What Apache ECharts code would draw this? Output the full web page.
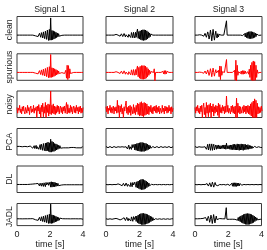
<!DOCTYPE html>
<html><head><meta charset="utf-8">
<script src="https://cdn.jsdelivr.net/npm/echarts@6/dist/echarts.min.js"></script>
<style>html,body{margin:0;padding:0;background:#fff}#c{width:267px;height:250px}</style>
</head><body><div id="c"></div>
<script>
const colTitles = ['Signal 1','Signal 2','Signal 3'];
const rowLabels = ['clean','spurious','noisy','PCA','DL','JADL'];
const xTicks = [0,2,4];
const time = [0,0.04,0.08,0.12,0.16,0.2,0.24,0.28,0.32,0.36,
0.4,0.44,0.48,0.52,0.56,0.6,0.64,0.68,0.72,0.76,
0.8,0.84,0.88,0.92,0.96,1,1.04,1.08,1.12,1.16,
1.2,1.24,1.28,1.32,1.36,1.4,1.44,1.48,1.52,1.56,
1.6,1.64,1.68,1.72,1.76,1.8,1.84,1.88,1.92,1.96,
2,2.04,2.08,2.12,2.16,2.2,2.24,2.28,2.32,2.36,
2.4,2.44,2.48,2.52,2.56,2.6,2.64,2.68,2.72,2.76,
2.8,2.84,2.88,2.92,2.96,3,3.04,3.08,3.12,3.16,
3.2,3.24,3.28,3.32,3.36,3.4,3.44,3.48,3.52,3.56,
3.6,3.64,3.68,3.72,3.76,3.8,3.84,3.88,3.92,3.96,4];

const s1Clean = [0,0,0,0,0,0,0,0,0,0,
0,0,0,0,0,0,0,0,0,0,
0,0,0,0,0,0.05,0.1,0,-0.1,0,
0.15,0.05,-0.2,0,0.25,0,-0.3,0.35,0,-0.4,
0.45,-0.1,-0.5,0.55,0,-0.6,0.7,-0.1,-0.75,0.8,
-0.7,2.4,-0.7,0.65,-0.65,0.6,-0.55,0.5,-0.45,0.4,
-0.35,0.3,-0.25,0.2,-0.15,0.1,-0.08,0.05,-0.03,0,
0,0,0,0,0,0,0,0,0,0,
0,0,0,0,0,0,0,0,0,0,
0,0,0,0,0,0,0,0,0,0,0];
const s2Clean = [0,0,0,0,0,0,0,0,0,0,
0,0,0,0,0.05,0.1,0,-0.1,0,0.12,
0,-0.15,0,0.18,0,-0.2,0,0.22,0,-0.25,
0.05,0.28,-0.05,-0.3,0.1,0.32,-0.1,-0.34,0.36,0,
-0.38,0.4,-0.1,-0.4,0.4,-0.3,0.4,0.85,-0.45,0.5,
-0.55,0.6,-0.65,0.7,-0.72,0.75,-0.75,0.75,-0.72,0.7,
-0.65,0.6,-0.52,0.45,-0.37,0.3,-0.22,0.15,-0.08,0.04,
0,0,0,0,0,0,0,0,0,0,
0,0,0,0,0,0,0,0,0,0,
0,0,0,0,0,0,0,0,0,0,0];
const s3Clean = [0,0,0,0,0,0,0,0.05,0,-0.05,
0,0.1,0,-0.15,0,0.25,0.1,-0.3,-0.1,0.45,
0.1,-0.55,-0.1,0.7,0.1,-0.8,0,0.8,0,-0.7,
0,0.55,-0.1,-0.4,0.2,-0.25,0.1,-0.1,0.04,0,
0,0,0,0,0,0,0,2.0,0,0,
0,0,0,0,0,0,0,0,0,0,
0,0,0,0,0,0,0,0,0,0,
0.03,-0.06,0.1,-0.15,0.2,-0.25,0.3,-0.35,0.4,-0.44,
0.47,-0.5,0.5,-0.5,0.5,-0.48,0.45,-0.42,0.38,-0.33,
0.28,-0.22,0.16,-0.1,0.06,-0.03,0,0,0,0,0];

const s1Spur = [0,0,0,0,0,0,0,0,0,0,
0,0,0,0,0,0,0,0,0,0,
0,0,0,0,0,0.05,0.1,0,-0.1,0,
0.15,0.05,-0.2,0,0.25,0,-0.3,0.35,0,-0.4,
0.45,-0.1,-0.5,0.55,0,-0.6,0.7,-0.1,-0.75,0.8,
-0.7,2.5,-0.7,0.65,-0.65,0.6,-0.55,0.5,-0.45,0.4,
-0.35,0.3,-0.25,0.2,-0.15,0.1,-0.08,0.05,-0.03,0,
0,0.1,-0.15,0.1,0.3,-0.8,1.0,-1.0,0.95,-0.8,
0.5,-0.15,0,0,0,0,0,0,0,0,
0,0,0,0,0,0,0,0,0,0,0];
const s2Spur = [0,0,0,0,0,0,0,0,0,0,
0,0,0,0,0.05,0.1,0,-0.1,0,0.12,
0,-0.15,0,0.18,0,-0.2,0,0.22,0,-0.25,
0.05,0.28,-0.05,-0.3,0.1,0.32,-0.1,-0.34,0.36,0,
-0.38,0.4,-0.1,-0.4,0.4,-0.35,0.5,0.9,-0.6,0.7,
-0.8,0.85,-0.9,0.95,-0.95,0.95,-0.95,0.95,-0.92,0.88,
-0.8,0.7,-0.6,0.5,-0.4,0.3,-0.2,0.12,-0.06,0.03,
0,0,0.5,-1.2,0,0,0,0,0,0,
0,0,0,0.05,-0.1,0.15,-0.2,0.25,-0.25,0.25,
-0.2,0.15,-0.1,0.05,0,0,0,0,0,0,0];
const s3Spur = [0,0,0,0,0,0,0,0.04,0,-0.04,
0,0.08,0,-0.12,0,0.2,0.08,-0.22,-0.08,0.35,
0.08,-0.42,-0.08,0.52,0.08,-0.6,0,0.6,0,-0.52,
0,0.38,-0.08,-0.2,0.15,0.3,-0.6,0.9,-1.0,0.85,
-0.4,0.1,0,0,0,0,0,1.8,0,0,
0,0,0,0,0,0,0,0,0,0.3,
-1.1,1.7,-1.2,1.0,-0.4,0.1,0,0.05,-0.15,0.2,
-0.25,0.25,-0.25,0.25,-0.2,0.2,-0.15,0.1,-0.05,0.1,
-0.25,0.45,-0.7,1.0,-1.1,1.4,-1.15,1.6,-1.15,1.5,
-1.1,1.0,-0.7,0.35,-0.1,0,0,0,0,0,0];

const s1Noisy = [0.3,-0.5,0.2,-0.1,0.6,-0.4,0.1,-0.6,0.4,-0.2,
0.5,-0.3,-0.6,0.3,0.1,-0.5,0.6,-0.2,0.3,-0.7,
0.2,0.5,-0.4,0.1,-0.3,0.6,-0.5,0.2,-0.1,0.4,
-1.1,0.5,-0.2,0.7,-0.6,0.3,-1.1,0.6,-0.3,0.9,
-1.0,0.4,-0.5,1.0,-1.1,0.6,-0.4,0.8,-0.9,0.7,
-0.6,2.6,-0.7,0.6,-0.5,0.8,-0.6,0.5,-0.7,0.4,
-0.5,0.6,-0.3,0.5,-0.6,0.2,0.5,-0.4,0.3,-0.6,
0.4,-0.2,0.5,-0.5,0.3,1.0,-0.6,0.7,-0.4,0.2,
-0.5,0.6,-0.3,0.4,-0.6,0.1,0.5,-0.4,0.3,-0.5,
0.6,-0.2,0.3,-0.6,0.4,-0.3,0.5,-0.5,0.2,-0.4,0.3];
const s2Noisy = [0.4,-0.3,0.5,-0.6,0.2,-0.1,0.6,-0.4,0.3,-0.5,
0.2,0.5,-0.6,0.3,-0.2,0.4,-0.5,1.3,-0.4,0.6,
-1.1,0.5,-0.3,0.7,-0.6,0.2,-1.1,0.4,-0.2,0.6,
1.2,-0.5,0.3,-0.7,0.5,-0.4,0.6,-0.8,0.4,0.2,
-0.6,0.7,-0.5,0.3,-0.7,0.6,-0.3,0.9,-0.7,0.8,
-0.9,1.0,-0.8,1.1,-0.9,0.9,-1.0,1.0,-0.8,0.9,
-0.7,0.8,-0.6,0.5,-0.7,0.4,-0.3,0.6,-0.5,0.3,
-0.6,0.4,-0.2,0.5,-0.4,0.6,-0.5,0.3,-0.3,0.5,
-0.6,0.2,0.4,-0.5,0.6,-0.3,0.2,-0.6,0.5,-0.2,
0.4,-0.5,0.3,-0.4,0.6,-0.2,0.3,-0.6,0.4,-0.3,0.2];
const s3Noisy = [0.3,-0.5,0.4,-0.2,0.6,-0.4,0.2,-0.6,0.5,-0.3,
0.6,-1.1,0.4,0.9,-0.7,0.3,-1.1,1.0,-0.5,0.6,
-1.0,0.7,-0.4,0.9,-1.1,0.5,-0.3,0.8,-0.9,0.4,
-0.5,0.6,-0.3,0.5,-0.8,0.9,-1.1,0.7,-0.4,0.3,
-0.5,0.6,-0.2,0.4,-0.6,0.5,-0.4,1.9,-0.3,0.6,
-0.5,0.2,0.4,-0.6,0.5,-0.3,0.6,-0.5,0.4,-0.6,
0.5,-1.1,1.6,-1.1,0.9,-0.4,0.5,-0.6,0.4,-0.5,
-0.6,0.4,-0.5,0.6,-0.3,0.5,-0.6,0.5,-0.4,0.6,
-0.6,0.5,-0.7,0.8,-0.9,1.0,-1.1,1.2,-1.1,1.5,
-1.1,1.3,-1.1,0.9,-0.6,0.4,-0.5,0.3,-0.4,0.5,-0.2];

const s1Pca = [0.1,-0.1,0.05,-0.1,0.1,-0.05,0.1,-0.1,0.05,-0.1,
0.1,-0.05,0.1,-0.1,0.1,-0.1,0.05,-0.1,0.1,-0.05,
0.15,-0.1,0,0.15,-0.15,0.05,0.2,-0.2,0,0.25,
-0.25,0.05,0.3,-0.3,0,0.35,-0.35,0.4,0,-0.45,
0.5,-0.1,-0.5,0.55,-0.55,0.6,-0.5,0.7,-0.6,0.6,
-0.7,1.1,-0.7,0.8,-0.6,0.7,-0.6,0.5,-0.5,0.45,
-0.4,0.35,-0.3,0.25,-0.2,0.2,-0.15,0.1,-0.15,0.1,
-0.1,0.1,-0.05,0.1,-0.1,0.05,-0.1,0.1,-0.1,0.05,
-0.1,0.1,-0.05,0.1,-0.1,0.1,-0.05,0.1,-0.1,0.05,
-0.1,0.1,-0.1,0.05,-0.1,0.1,-0.05,0.1,-0.1,0.1,-0.05];
const s2Pca = [0.08,-0.08,0.05,-0.08,0.08,-0.05,0.08,-0.08,0.05,-0.08,
0.08,-0.05,0.08,-0.08,0.08,-0.05,0.1,-0.1,0.05,0.12,
-0.12,0,0.15,-0.15,0.05,0.18,-0.18,0,0.2,-0.22,
0.05,0.25,-0.25,0,0.28,-0.3,0.05,0.3,-0.32,0.35,
-0.1,-0.35,0.4,-0.4,0.4,-0.45,0.5,-0.5,0.55,-0.55,
0.6,-0.6,0.65,-0.6,0.65,-0.6,0.6,-0.6,0.55,-0.5,
0.5,-0.45,0.4,-0.35,0.3,-0.25,0.2,-0.15,0.12,-0.1,
0.08,-0.08,0.05,-0.08,0.08,-0.05,0.08,-0.08,0.05,-0.08,
0.08,-0.05,0.08,-0.08,0.08,-0.05,0.08,-0.08,0.05,-0.08,
0.08,-0.05,0.08,-0.08,0.08,-0.05,0.08,-0.08,0.05,-0.08,0.05];
const s3Pca = [0.08,-0.08,0.1,-0.05,0.08,-0.1,0.05,0.1,-0.1,0,
0.15,-0.15,0,0.2,-0.2,0.05,0.3,-0.3,0,0.4,
-0.4,0.05,0.45,-0.45,0,0.45,-0.45,0.1,0.4,-0.4,
0,0.3,-0.3,0.25,-0.2,0.3,-0.25,0.2,-0.25,0.2,
-0.2,0.25,-0.2,0.3,-0.25,0.3,-0.3,0.55,-0.25,0.2,
-0.2,0.25,-0.3,0.3,-0.35,0.3,-0.35,0.4,-0.35,0.4,
-0.4,0.35,-0.4,0.45,-0.4,0.4,-0.45,0.4,-0.4,0.45,
-0.4,0.4,-0.45,0.4,-0.35,0.4,-0.35,0.3,-0.3,0.35,
-0.3,0.25,-0.25,0.2,-0.2,0.15,-0.15,0.12,-0.1,0.1,
-0.08,0.08,-0.05,0.08,-0.08,0.05,-0.08,0.08,-0.05,0.08,-0.05];

const s1Dl = [0.02,-0.02,0.02,-0.02,0.02,-0.02,0.02,-0.02,0.02,-0.02,
0.02,-0.02,0.02,-0.02,0.02,-0.02,0.02,-0.02,0.03,-0.03,
0.05,0,-0.06,0,0.08,0,-0.1,0,0.12,0,
-0.14,0,0.16,0,-0.18,0.2,0,-0.22,0.22,0,
-0.25,0.25,0,-0.28,0.3,-0.05,-0.3,0.3,-0.1,-0.32,
0.35,-0.35,0.4,-0.35,0.35,-0.3,0.35,-0.3,0.28,-0.25,
0.22,-0.2,0.18,-0.15,0.12,-0.1,0.08,-0.06,0.04,-0.03,
0.02,-0.02,0.02,-0.02,0.02,-0.02,0.02,-0.02,0.02,-0.02,
0.02,-0.02,0.02,-0.02,0.02,-0.02,0.02,-0.02,0.02,-0.02,
0.02,-0.02,0.02,-0.02,0.02,-0.02,0.02,-0.02,0.02,-0.02,0.02];
const s2Dl = [0.02,-0.02,0.02,-0.02,0.02,-0.02,0.02,-0.02,0.02,-0.02,
0.02,-0.02,0.02,-0.04,0.05,0,-0.08,0,0.1,0,
-0.12,0,0.14,0,-0.16,0,0.18,0,-0.2,0.05,
0.22,-0.05,-0.24,0.05,0.26,-0.1,-0.28,0.28,0,-0.3,
0.3,-0.05,-0.32,0.35,-0.1,-0.38,0.4,-0.45,0.5,-0.55,
0.6,-0.65,0.7,-0.7,0.75,-0.7,0.7,-0.65,0.6,-0.55,
0.5,-0.42,0.35,-0.28,0.22,-0.16,0.1,-0.06,0.04,-0.03,
0.02,-0.02,0.02,-0.02,0.02,-0.02,0.02,-0.02,0.02,-0.02,
0.02,-0.02,0.02,-0.02,0.02,-0.02,0.02,-0.02,0.02,-0.02,
0.02,-0.02,0.02,-0.02,0.02,-0.02,0.02,-0.02,0.02,-0.02,0.02];
const s3Dl = [0.02,-0.02,0.02,-0.02,0.02,-0.02,0.02,-0.02,0.02,-0.02,
0.02,-0.02,0.02,-0.02,0.05,0,-0.1,0,0.15,0.05,
-0.2,-0.05,0.25,0.05,-0.3,0,0.35,0,-0.35,0,
0.3,-0.05,-0.25,0.1,-0.15,0.08,-0.05,0.02,-0.02,0.02,
-0.02,0.02,-0.02,0.02,-0.02,0.05,-0.05,0.02,-0.02,0.05,
-0.08,0.1,-0.12,0.15,-0.18,0.2,-0.22,0.25,-0.25,0.25,
-0.25,0.25,-0.25,0.22,-0.2,0.2,-0.18,0.15,-0.12,0.1,
-0.08,0.06,-0.04,0.03,-0.02,0.02,-0.02,0.02,-0.02,0.02,
-0.02,0.02,-0.02,0.02,-0.02,0.02,-0.02,0.02,-0.02,0.02,
-0.02,0.02,-0.02,0.02,-0.02,0.02,-0.02,0.02,-0.02,0.02,-0.02];

const s1Jadl = [0.04,-0.04,0.03,-0.04,0.04,-0.03,0.04,-0.04,0.03,-0.04,
0.04,-0.03,0.04,-0.04,0.04,-0.03,0.04,-0.04,0.03,-0.04,
0.05,-0.05,0.05,-0.06,0.06,0.08,0.12,0,-0.12,0,
0.18,0.05,-0.22,0,0.28,0,-0.32,0.38,0,-0.42,
0.48,-0.1,-0.52,0.58,0,-0.62,0.7,-0.1,-0.75,0.8,
-0.7,2.5,-0.75,0.7,-0.7,0.65,-0.6,0.55,-0.5,0.45,
-0.4,0.35,-0.3,0.25,-0.2,0.15,-0.12,0.08,-0.06,0.05,
-0.04,0.04,-0.03,0.04,-0.04,0.03,-0.04,0.04,-0.03,0.04,
-0.04,0.03,-0.04,0.04,-0.03,0.04,-0.04,0.03,-0.04,0.04,
-0.03,0.04,-0.04,0.03,-0.04,0.04,-0.03,0.04,-0.04,0.03,-0.04];
const s2Jadl = [0.04,-0.04,0.03,-0.04,0.04,-0.03,0.04,-0.04,0.03,-0.04,
0.04,-0.03,0.04,-0.04,0.06,0.1,0,-0.1,0,0.12,
0,-0.15,0,0.18,0,-0.2,0,0.22,0,-0.25,
0.05,0.28,-0.05,-0.3,0.1,0.32,-0.1,-0.34,0.36,0,
-0.38,0.4,-0.1,-0.42,0.45,-0.4,0.5,-0.6,0.68,-0.75,
0.8,-0.85,0.9,-0.92,0.95,-0.95,0.95,-0.92,0.9,-0.88,
0.85,-0.8,0.75,-0.7,0.64,-0.58,0.5,-0.44,0.38,-0.3,
0.24,-0.18,0.12,-0.08,0.05,-0.03,0.04,-0.04,0.03,-0.04,
0.04,-0.03,0.04,-0.04,0.03,-0.04,0.04,-0.03,0.04,-0.04,
0.03,-0.04,0.04,-0.03,0.04,-0.04,0.03,-0.04,0.04,-0.03,0.04];
const s3Jadl = [0.04,-0.04,0.03,-0.04,0.04,-0.03,0.04,-0.04,0.06,0,
-0.06,0,0.1,0,-0.15,0,0.25,0.1,-0.3,-0.1,
0.45,0.1,-0.55,-0.1,0.65,0.1,-0.75,0,0.75,0,
-0.65,0,0.5,-0.1,-0.35,0.2,-0.15,0.08,-0.05,0.04,
-0.04,0.04,-0.03,0.04,-0.04,0.03,-0.04,1.9,-0.04,0.04,
-0.03,0.04,-0.04,0.03,-0.04,0.04,-0.03,0.04,-0.04,0.03,
-0.05,0.07,-0.1,0.14,-0.2,0.26,-0.32,0.38,-0.45,0.52,
-0.58,0.64,-0.7,0.76,-0.8,0.85,-0.88,0.9,-0.92,0.92,
-0.92,0.9,-0.88,0.85,-0.8,0.75,-0.7,0.64,-0.58,0.5,
-0.42,0.34,-0.26,0.2,-0.14,0.1,-0.07,0.05,-0.04,0.03,-0.04];

const rowsData = [
  [s1Clean, s2Clean, s3Clean],
  [s1Spur, s2Spur, s3Spur],
  [s1Noisy, s2Noisy, s3Noisy],
  [s1Pca, s2Pca, s3Pca],
  [s1Dl, s2Dl, s3Dl],
  [s1Jadl, s2Jadl, s3Jadl]
];
const rowColors = ['#000000','#ff0000','#ff0000','#000000','#000000','#000000'];

const lefts = [17, 106, 195];
const widths = [66, 67, 67];
const tops = [16.5, 53.8, 91, 128.5, 166, 203.5];
const H = 26.5;
const FONT = 'Liberation Sans, Arial, sans-serif';

const grid = [], xAxis = [], yAxis = [], series = [], graphic = [];
for (let r = 0; r < 6; r++) {
  for (let c = 0; c < 3; c++) {
    const k = r * 3 + c;
    const bottom = r === 5;
    grid.push({left: lefts[c], top: tops[r], width: widths[c], height: H,
      show: true, borderColor: '#3a3a3a', borderWidth: 1, backgroundColor: 'transparent', containLabel: false});
    xAxis.push({type: 'value', gridIndex: k, min: xTicks[0], max: xTicks[xTicks.length-1], interval: 2,
      axisLine: {show: false}, axisTick: {show: false}, splitLine: {show: false},
      axisLabel: {show: bottom, fontSize: 9, color: '#222', margin: 4.5, fontFamily: FONT},
      name: bottom ? 'time [s]' : '', nameLocation: 'middle', nameGap: 13.5,
      nameTextStyle: {fontSize: 9, color: '#222', fontFamily: FONT}});
    yAxis.push({type: 'value', gridIndex: k, min: -1.1, max: 2.6, show: false, splitLine: {show: false}});
    const arr = rowsData[r][c];
    series.push({type: 'line', xAxisIndex: k, yAxisIndex: k, symbol: 'none', showSymbol: false,
      animation: false, clip: true, silent: true,
      lineStyle: {width: 1, color: rowColors[r]},
      data: time.map((t, i) => [t, arr[i]])});
  }
}
for (let c = 0; c < 3; c++) {
  graphic.push({type: 'text', x: lefts[c] + widths[c] / 2, y: 9.5,
    style: {text: colTitles[c], fontSize: 8.7, fontFamily: FONT, fill: '#222',
      textAlign: 'center', align: 'center', textVerticalAlign: 'middle', verticalAlign: 'middle'}});
}
for (let r = 0; r < 6; r++) {
  graphic.push({type: 'text', x: 10, y: tops[r] + H / 2, rotation: Math.PI / 2,
    style: {text: rowLabels[r], fontSize: 8.7, fontFamily: FONT, fill: '#222',
      textAlign: 'center', align: 'center', textVerticalAlign: 'middle', verticalAlign: 'middle'}});
}
const chart = echarts.init(document.getElementById('c'), null, {renderer: 'canvas'});
chart.setOption({animation: false, backgroundColor: '#fff', grid, xAxis, yAxis, series, graphic});
</script></body></html>
